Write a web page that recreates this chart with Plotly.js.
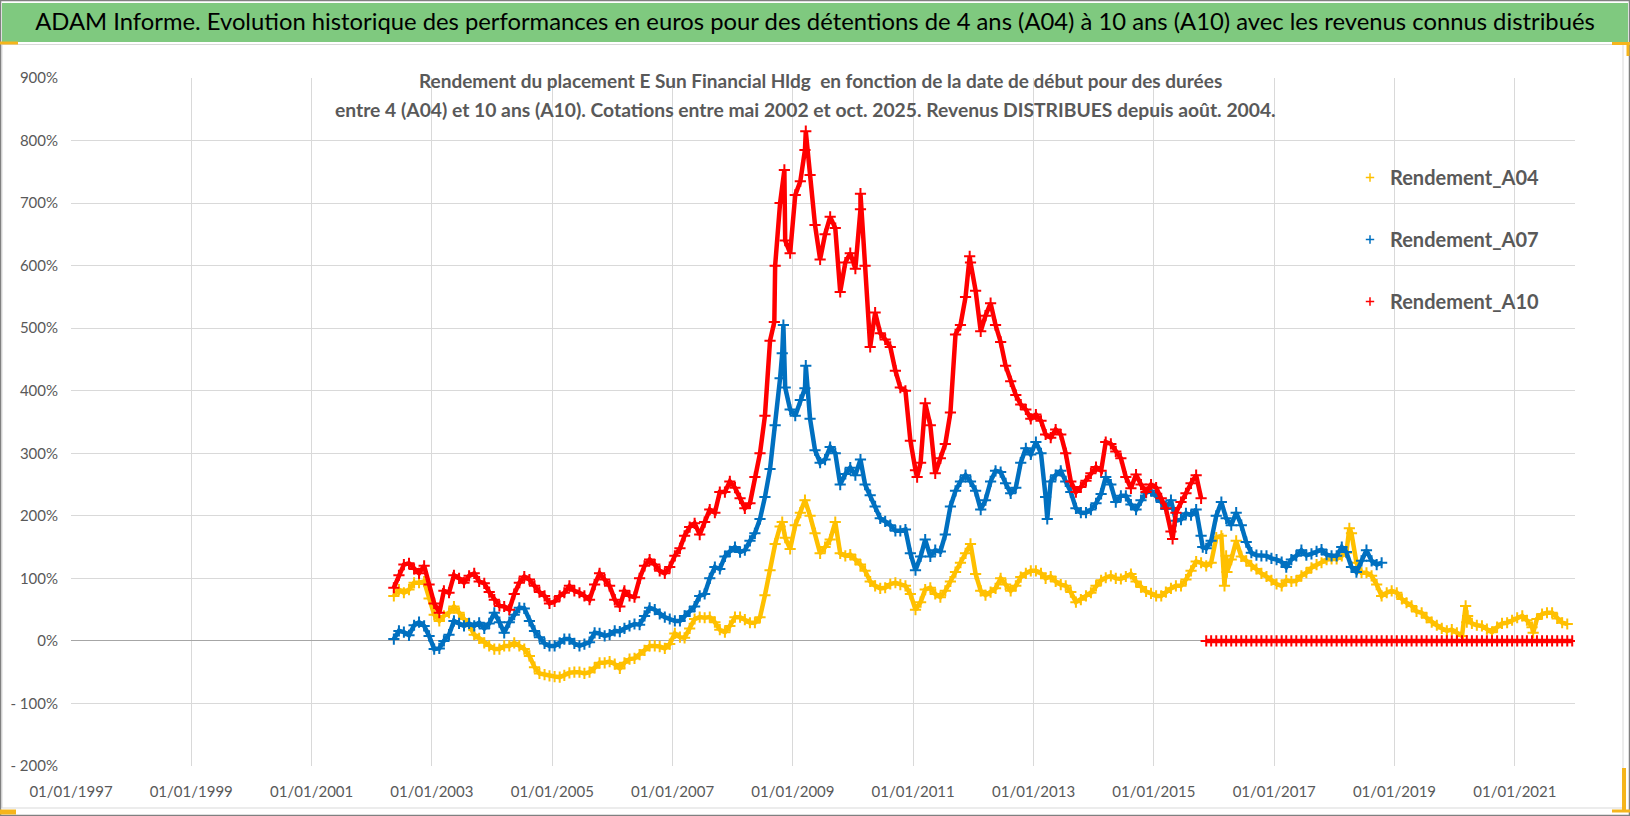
<!DOCTYPE html>
<html><head><meta charset="utf-8">
<script src="https://cdn.plot.ly/plotly-3.0.1.min.js"></script>
<style>html,body{margin:0;padding:0;background:#fff}#chart{width:1630px;height:816px}</style>
</head><body><div id="chart"></div>
<script>
// ---- data (monthly readings, values in %) ----
const seriesNames = ['Rendement_A04', 'Rendement_A07', 'Rendement_A10'];
const seriesColors = ['#FFC000', '#0070C0', '#FF0000'];

const a04Start = '2002-05';
const a04Values = [
  72, 82, 77, 82, 93, 93, 95, 68,
  42, 32, 40, 45, 55, 45, 35, 25, 10, 4, -3, -8,
  -13, -13, -8, -8, -3, -8, -13, -24, -42, -52, -54, -56,
  -57, -58, -55, -51, -50, -50, -52, -50, -43, -35, -35, -33,
  -37, -44, -35, -29, -28, -22, -15, -8, -8, -9, -12, -5,
  12, 6, 5, 20, 35, 38, 37, 38, 30, 18, 14, 24,
  38, 38, 34, 29, 29, 38, 73, 113, 155, 183, 165, 147,
  185, 205, 225, 200, 172, 140, 150, 162, 190, 140, 136, 138,
  130, 122, 112, 95, 88, 84, 85, 91, 93, 90, 88, 75,
  50, 62, 82, 85, 75, 70, 80, 95, 110, 125, 140, 155,
  107, 80, 73, 78, 84, 100, 90, 80, 88, 102, 108, 112,
  112, 108, 100, 103, 95, 90, 88, 78, 62, 66, 72, 77,
  88, 97, 101, 104, 100, 99, 103, 107, 95, 86, 79, 76,
  72, 72, 78, 84, 88, 88, 98, 112, 127, 125, 120, 125,
  165, 168, 136, 130, 160, 135, 128, 120, 115, 108, 103, 97,
  91, 88, 97, 95, 96, 104, 109, 117, 122, 125, 130, 131,
  131, 136, 141, 172, 125, 109, 109, 104, 90, 72, 77, 80,
  77, 67, 61, 56, 47, 45, 37, 30, 25, 20, 16, 18,
  13, 8, 30, 28, 25, 24, 19, 14, 22, 28, 29, 33,
  37, 40, 33, 22, 35, 43, 45, 45, 36, 29, 27
];
const a04ExtraDates = ['2008-10-28', '2016-03-05', '2016-03-20', '2018-04-02', '2020-03-08', '2020-03-20', '2021-04-22'];
const a04ExtraValues = [190, 88, 110, 180, 56, 40, 13];

const a07Start = '2002-05';
const a07Values = [
  3, 16, 14, 9, 25, 30, 24, 8,
  -13, -12, 0, 10, 32, 28, 24, 28, 24, 29, 20, 28,
  45, 30, 13, 30, 42, 53, 52, 32, 16, 6, -4, -8,
  -8, -3, 3, 3, -4, -8, -5, -2, 13, 12, 8, 10,
  16, 15, 20, 24, 27, 26, 40, 53, 50, 43, 38, 35,
  32, 32, 40, 47, 55, 72, 75, 100, 118, 115, 135, 143,
  150, 142, 145, 160, 172, 195, 230, 275, 345, 420, 405, 370,
  360, 385, 404, 355, 305, 285, 290, 310, 300, 250, 267, 277,
  265, 290, 250, 233, 215, 196, 191, 185, 176, 176, 178, 140,
  113, 135, 162, 135, 145, 143, 170, 215, 240, 255, 265, 255,
  240, 210, 225, 255, 272, 270, 252, 236, 245, 285, 308, 298,
  318, 300, 230, 255, 265, 272, 255, 238, 212, 205, 205, 210,
  220, 235, 262, 250, 222, 232, 232, 218, 210, 225, 237, 240,
  232, 222, 211, 225, 192, 194, 204, 201, 210, 168, 148, 160,
  200, 222, 196, 185, 205, 185, 158, 141, 137, 136, 136, 132,
  130, 126, 118, 130, 136, 145, 137, 139, 143, 146, 138, 136,
  136, 150, 142, 118, 110, 128, 145, 128, 122, 125
];
const a07ExtraDates = ['2008-10-28', '2008-11-04', '2009-03-20', '2013-03-25', '2015-10-25'];
const a07ExtraValues = [460, 505, 440, 195, 150];

const a10Start = '2002-05';
const a10Values = [
  85, 105, 122, 124, 115, 108, 120, 90,
  60, 45, 80, 77, 105, 100, 93, 104, 108, 95, 92, 78,
  66, 56, 55, 50, 75, 93, 103, 98, 88, 78, 72, 60,
  63, 72, 77, 88, 80, 77, 72, 66, 90, 108, 98, 88,
  66, 55, 80, 72, 70, 100, 120, 130, 122, 112, 108, 118,
  136, 148, 168, 182, 188, 170, 190, 210, 205, 238, 238, 255,
  245, 228, 212, 220, 262, 300, 360, 480, 600, 700, 640, 620,
  713, 735, 785, 745, 665, 610, 650, 678, 660, 558, 605, 620,
  595, 690, 600, 470, 525, 492, 482, 470, 432, 405, 400, 320,
  273, 285, 380, 345, 268, 292, 315, 365, 490, 505, 550, 605,
  560, 495, 520, 540, 505, 478, 440, 415, 393, 378, 370, 355,
  362, 352, 330, 325, 338, 330, 300, 255, 238, 246, 256, 268,
  278, 272, 318, 315, 303, 292, 262, 244, 266, 250, 238, 250,
  245, 228, 212, 175, 205, 222, 236, 252, 265, 228
];
const a10ExtraDates = ['2008-09-10', '2008-11-10', '2009-03-20', '2010-02-15', '2011-01-25', '2011-12-10', '2015-04-25'];
const a10ExtraValues = [510, 753, 815, 715, 262, 615, 163];
// A10 after oct. 2015: value 0
const a10ZeroStart = '2015-11';
const a10ZeroValues = [
  0, 0,
  0, 0, 0, 0, 0, 0, 0, 0, 0, 0, 0, 0,
  0, 0, 0, 0, 0, 0, 0, 0, 0, 0, 0, 0,
  0, 0, 0, 0, 0, 0, 0, 0, 0, 0, 0, 0,
  0, 0, 0, 0, 0, 0, 0, 0, 0, 0, 0, 0,
  0, 0, 0, 0, 0, 0, 0, 0, 0, 0, 0, 0,
  0, 0, 0, 0, 0, 0, 0, 0, 0, 0, 0, 0
];

const yTickVals = [-200, -100, 0, 100, 200, 300, 400, 500, 600, 700, 800, 900];
const yTickText = ['- 200%', '- 100%', '0%', '100%', '200%', '300%', '400%', '500%', '600%', '700%', '800%', '900%'];
const xTickVals = ['1997-01-01', '1999-01-01', '2001-01-01', '2003-01-01', '2005-01-01', '2007-01-01', '2009-01-01',
  '2011-01-01', '2013-01-01', '2015-01-01', '2017-01-01', '2019-01-01', '2021-01-01'];
const xTickText = ['01/01/1997', '01/01/1999', '01/01/2001', '01/01/2003', '01/01/2005', '01/01/2007', '01/01/2009',
  '01/01/2011', '01/01/2013', '01/01/2015', '01/01/2017', '01/01/2019', '01/01/2021'];

const titleText = 'ADAM Informe. Evolution historique des performances en euros pour des détentions de 4 ans (A04) à 10 ans (A10) avec les revenus connus distribués';
const subLine1 = 'Rendement du placement E Sun Financial Hldg  en fonction de la date de début pour des durées';
const subLine2 = 'entre 4 (A04) et 10 ans (A10). Cotations entre mai 2002 et oct. 2025. Revenus DISTRIBUES depuis août. 2004.';

// ---- helpers ----
function monthDates(start, n) {
  let y = +start.slice(0, 4), m = +start.slice(5, 7);
  const out = [];
  for (let i = 0; i < n; i++) {
    out.push(y + '-' + String(m).padStart(2, '0') + '-15');
    m++; if (m > 12) { m = 1; y++; }
  }
  return out;
}
function sortPairs(dates, vals) {
  const idx = dates.map((d, i) => i).sort((a, b) => dates[a] < dates[b] ? -1 : dates[a] > dates[b] ? 1 : 0);
  return {dates: idx.map(i => dates[i]), vals: idx.map(i => vals[i])};
}
const W = 1630, H = 816, L = 71, R = 55, T = 78, B = 50;
const PW = W - L - R, PH = H - T - B;
const px = p => (p - L) / PW;
const py = p => (H - B - p) / PH;
const FONT = 'Lato, "Open Sans", sans-serif';

const seriesData = [
  sortPairs(monthDates(a04Start, a04Values.length).concat(a04ExtraDates), a04Values.concat(a04ExtraValues)),
  sortPairs(monthDates(a07Start, a07Values.length).concat(a07ExtraDates), a07Values.concat(a07ExtraValues)),
  sortPairs(monthDates(a10Start, a10Values.length).concat(a10ExtraDates), a10Values.concat(a10ExtraValues))
];
const zeroData = {dates: monthDates(a10ZeroStart, a10ZeroValues.length), vals: a10ZeroValues};

const traces = [];
function addSeries(s, i) {
  traces.push({
    type: 'scatter', mode: 'lines+markers', x: s.dates, y: s.vals, name: seriesNames[i],
    showlegend: false, hoverinfo: 'x+y',
    line: {color: seriesColors[i], width: 4.5},
    marker: {symbol: 'cross-thin', size: 8, color: seriesColors[i], line: {width: 2, color: seriesColors[i]}}
  });
}
seriesData.forEach(addSeries);
addSeries(zeroData, 2);
seriesNames.forEach((n, i) => {
  traces.push({
    type: 'scatter', mode: 'markers', x: [null], y: [null], name: n, legendgroup: 'g' + i,
    showlegend: true,
    marker: {symbol: 'cross-thin', size: 6, color: seriesColors[i], line: {width: 1.5, color: seriesColors[i]}}
  });
});

function rect(x0, y0, x1, y1, opts) {
  return Object.assign({type: 'rect', xref: 'paper', yref: 'paper', x0: px(x0), x1: px(x1), y0: py(y0), y1: py(y1)}, opts);
}
function seg(x0, y0, x1, y1, color, w) {
  return {type: 'line', xref: 'paper', yref: 'paper', x0: px(x0), x1: px(x1), y0: py(y0), y1: py(y1), line: {color: color, width: w}};
}
const ORANGE = '#F5B51C';
const shapes = [
  rect(2, 3, 1628, 42, {fillcolor: '#7FC97F', line: {width: 0}, layer: 'below'}),
  rect(2, 44.5, 1623, 808, {fillcolor: 'rgba(0,0,0,0)', line: {color: '#d9d9d9', width: 1}, layer: 'below'}),
  rect(0.5, 0.5, 1629.5, 815.5, {fillcolor: 'rgba(0,0,0,0)', line: {color: '#808080', width: 1.5}, layer: 'below'}),
  rect(334, 58, 1290, 130, {fillcolor: '#ffffff', line: {width: 0}, layer: 'between'}),
  rect(1330, 146, 1577, 358, {fillcolor: '#ffffff', line: {width: 0}, layer: 'between'}),
  seg(0, 43, 18, 43, ORANGE, 3),
  seg(1612, 43.5, 1630, 43.5, ORANGE, 3),
  seg(1628, 42, 1628, 56, ORANGE, 3),
  seg(1624, 768, 1624, 810, ORANGE, 4),
  seg(1612, 811, 1630, 811, ORANGE, 3),
  seg(0, 812, 16, 812, ORANGE, 5)
];

const annotations = [
  {xref: 'paper', yref: 'paper', x: px(820), y: py(80), xanchor: 'center', yanchor: 'middle', showarrow: false,
   text: subLine1, font: {family: FONT, size: 19, color: '#595959', weight: 'bold'}},
  {xref: 'paper', yref: 'paper', x: px(805), y: py(110), xanchor: 'center', yanchor: 'middle', showarrow: false,
   text: subLine2, font: {family: FONT, size: 19.3, color: '#595959', weight: 'bold'}}
];

const layout = {
  width: W, height: H,
  margin: {l: L, r: R, t: T, b: B, pad: 0},
  paper_bgcolor: '#ffffff', plot_bgcolor: '#ffffff',
  title: {text: titleText, x: 0.5, xref: 'container', y: 1 - 22 / H, yref: 'container', yanchor: 'middle', xanchor: 'center',
          font: {family: FONT, size: 23.8, color: '#000000'}},
  xaxis: {type: 'date', range: ['1997-01-01', '2022-01-01'], tickvals: xTickVals, ticktext: xTickText,
          showgrid: true, gridcolor: '#d9d9d9', gridwidth: 1, zeroline: false, showline: false, ticks: '',
          tickfont: {family: FONT, size: 15, color: '#595959'}, ticklabelstandoff: 15},
  yaxis: {range: [-200, 900], tickvals: yTickVals, ticktext: yTickText,
          showgrid: true, gridcolor: '#d9d9d9', gridwidth: 1, zeroline: true, zerolinecolor: '#a6a6a6', zerolinewidth: 1,
          showline: false, ticks: '', tickfont: {family: FONT, size: 15, color: '#595959'}, ticklabelstandoff: 12},
  legend: {x: px(1350), y: py(158), xanchor: 'left', yanchor: 'top', bgcolor: 'rgba(0,0,0,0)', borderwidth: 0,
           tracegroupgap: 33, itemwidth: 30,
           font: {family: FONT, size: 20, color: '#595959', weight: 'bold'}},
  shapes: shapes,
  annotations: annotations,
  showlegend: true,
  hovermode: 'closest'
};

Plotly.newPlot('chart', traces, layout, {displayModeBar: false, staticPlot: true});
</script>
</body></html>
